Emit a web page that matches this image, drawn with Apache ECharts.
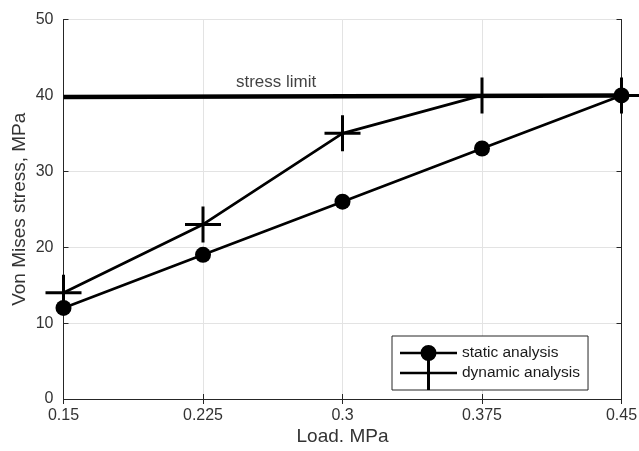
<!DOCTYPE html>
<html>
<head>
<meta charset="utf-8">
<script src="https://cdn.jsdelivr.net/npm/echarts@6/dist/echarts.min.js"></script>
<style>html,body{margin:0;padding:0;background:#fff;}#c{width:639px;height:451px;}</style>
</head>
<body>
<div id="c"></div>
<script>
// ---- data ----
var loads = [0.15, 0.225, 0.3, 0.375, 0.45];
var staticStress = [12, 19, 26, 33, 40];
var dynamicStress = [14, 23, 35, 40, 40];
var limitX = [0.15, 0.4625];
var limitY = [39.8, 40];
var limitLabelAt = [0.2643, 39.85];
var limitLabelText = 'stress limit';
var seriesNames = ['static analysis', 'dynamic analysis'];
var xTitle = 'Load. MPa';
var yTitle = 'Von Mises stress, MPa';
var xRange = [0.15, 0.45, 0.075];
var yRange = [0, 50, 10];

function pairs(xs, ys) { return xs.map(function (x, i) { return [x, ys[i]]; }); }

var FONT = '"Liberation Sans", Arial, sans-serif';
var AXC = '#262626';
var plusPath = 'path://M-1.5,-18L1.5,-18L1.5,-1.5L18,-1.5L18,1.5L1.5,1.5L1.5,18L-1.5,18L-1.5,1.5L-18,1.5L-18,-1.5L-1.5,-1.5Z';
var legendStatic = 'path://M28.5,0L28.5,0ZM28.5,34L28.5,34ZM0,15.8L57,15.8L57,18.2L0,18.2ZM20.5,17A8,8 0 1,1 36.5,17A8,8 0 1,1 20.5,17Z';
var legendDynamic = 'path://M0,15.8L27,15.8L27,0L30,0L30,15.8L57,15.8L57,18.2L30,18.2L30,34L27,34L27,18.2L0,18.2Z';

var chart = echarts.init(document.getElementById('c'), null, {renderer: 'canvas'});
chart.setOption({
  animation: false,
  backgroundColor: '#fff',
  textStyle: {fontFamily: FONT},
  grid: {left: 63.5, right: 17.5, top: 19.5, bottom: 52, containLabel: false, outerBoundsMode: 'none'},
  legend: {
    orient: 'vertical',
    left: 392, top: 336,
    padding: [0, 8, 0, 8],
    itemWidth: 57, itemHeight: 34, itemGap: -14,
    symbolKeepAspect: false,
    borderColor: AXC, borderWidth: 1,
    backgroundColor: '#fff',
    itemStyle: {borderWidth: 0},
    textStyle: {fontSize: 15.5, color: '#1a1a1a', fontFamily: FONT},
    data: [
      {name: seriesNames[0], icon: legendStatic},
      {name: seriesNames[1], icon: legendDynamic}
    ],
    selectedMode: false
  },
  xAxis: [{
    type: 'value', position: 'bottom',
    min: xRange[0], max: xRange[1], interval: xRange[2],
    name: xTitle, nameLocation: 'middle', nameGap: 28, nameMoveOverlap: false,
    nameTextStyle: {fontSize: 19, color: '#333', fontFamily: FONT},
    axisLine: {show: true, lineStyle: {color: AXC, width: 1}},
    axisTick: {show: true, inside: true, length: 5, lineStyle: {color: AXC}},
    axisLabel: {fontSize: 16, color: '#333', margin: 9, fontFamily: FONT},
    splitLine: {show: true, lineStyle: {color: '#e3e3e3', width: 1}}
  }, {
    type: 'value', position: 'top',
    min: xRange[0], max: xRange[1], interval: xRange[2],
    axisLine: {show: true, lineStyle: {color: AXC, width: 1}},
    axisTick: {show: true, inside: true, length: 5, lineStyle: {color: AXC}},
    axisLabel: {show: false},
    splitLine: {show: false}
  }],
  yAxis: [{
    type: 'value', position: 'left',
    min: yRange[0], max: yRange[1], interval: yRange[2],
    name: yTitle, nameLocation: 'middle', nameGap: 34, nameMoveOverlap: false,
    nameTextStyle: {fontSize: 19, color: '#333', fontFamily: FONT},
    axisLine: {show: true, lineStyle: {color: AXC, width: 1}},
    axisTick: {show: true, inside: true, length: 5, lineStyle: {color: AXC}},
    axisLabel: {fontSize: 16, color: '#333', margin: 10, padding: [4, 0, 0, 0], fontFamily: FONT},
    splitLine: {show: true, lineStyle: {color: '#e3e3e3', width: 1}}
  }, {
    type: 'value', position: 'right',
    min: yRange[0], max: yRange[1], interval: yRange[2],
    axisLine: {show: true, lineStyle: {color: AXC, width: 1}},
    axisTick: {show: true, inside: true, length: 5, lineStyle: {color: AXC}},
    axisLabel: {show: false},
    splitLine: {show: false}
  }],
  series: [{
    name: 'stress limit line',
    type: 'line',
    data: pairs(limitX, limitY),
    clip: false,
    symbol: 'none',
    lineStyle: {color: '#000', width: 4.5},
    itemStyle: {color: '#000'},
    silent: true, z: 2
  }, {
    name: 'stress limit label',
    type: 'scatter',
    data: [limitLabelAt],
    symbolSize: 0,
    label: {show: true, position: 'top', distance: 6, formatter: function () { return limitLabelText; },
      fontSize: 17, color: '#111', fontFamily: FONT},
    silent: true, z: 3
  }, {
    name: seriesNames[1],
    type: 'line',
    data: pairs(loads, dynamicStress),
    symbol: plusPath, symbolSize: 36,
    showAllSymbol: true,
    lineStyle: {color: '#000', width: 2.7},
    itemStyle: {color: '#000', borderWidth: 0},
    z: 4
  }, {
    name: seriesNames[0],
    type: 'line',
    data: pairs(loads, staticStress),
    symbol: 'circle', symbolSize: 16,
    showAllSymbol: true,
    lineStyle: {color: '#000', width: 2.7},
    itemStyle: {color: '#000', borderWidth: 0},
    z: 5
  }]
});
</script>
</body>
</html>
